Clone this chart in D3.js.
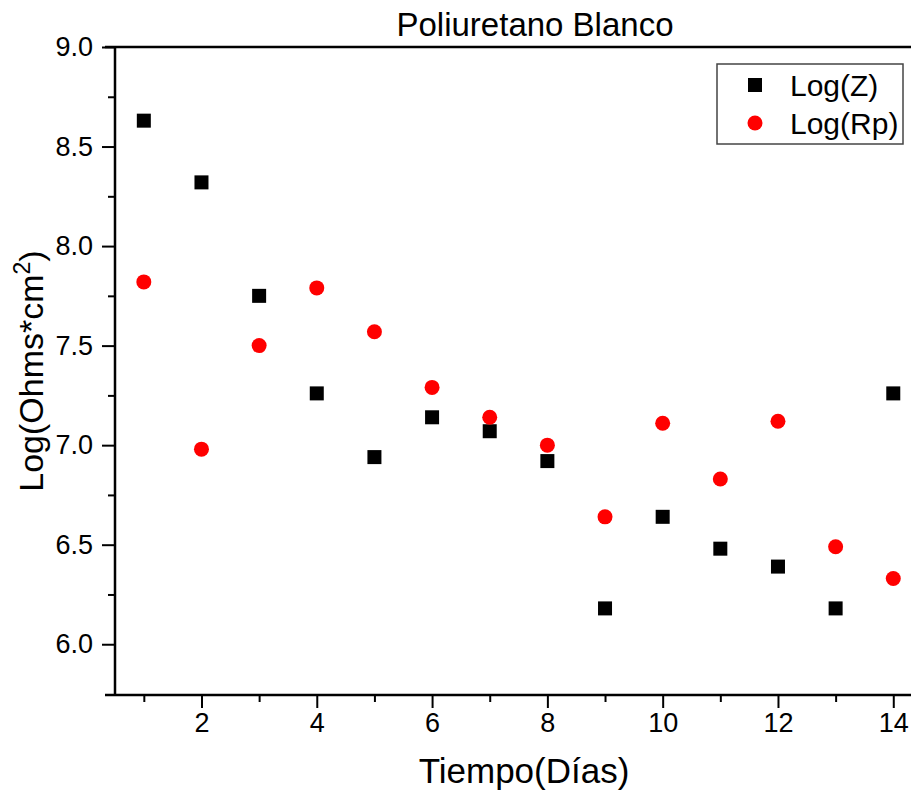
<!DOCTYPE html>
<html>
<head>
<meta charset="utf-8">
<script src="https://cdn.jsdelivr.net/npm/d3@7"></script>
<style>
body { margin: 0; background: #fff; }
text { font-family: "Liberation Sans", Arial, sans-serif; fill: #000; }
</style>
</head>
<body>
<div id="chart"></div>
<script>
var dias = [1, 2, 3, 4, 5, 6, 7, 8, 9, 10, 11, 12, 13, 14];
var logZ = [8.63, 8.32, 7.75, 7.26, 6.94, 7.14, 7.07, 6.92, 6.18, 6.64, 6.48, 6.39, 6.18, 7.26];
var logRp = [7.82, 6.98, 7.50, 7.79, 7.57, 7.29, 7.14, 7.00, 6.64, 7.11, 6.83, 7.12, 6.49, 6.33];
var xTicks = [2, 4, 6, 8, 10, 12, 14];
var yTicks = [6.0, 6.5, 7.0, 7.5, 8.0, 8.5, 9.0];

var W = 911, H = 796;
var pLeft = 115, pTop = 47, pBottom = 695;

var svg = d3.select("#chart").append("svg")
	.attr("width", W)
	.attr("height", H);

var x = d3.scaleLinear().domain([0.5, 14.5]).range([pLeft, pLeft + 14 * 57.65]);
var y = d3.scaleLinear().domain([5.745, 9.0]).range([pBottom, pTop]);

// minor ticks first
svg.append("g")
	.attr("transform", "translate(0," + pBottom + ")")
	.call(d3.axisBottom(x).tickValues(d3.range(1, 15, 2)).tickSize(7).tickFormat(""))
	.call(function(g){ g.select(".domain").remove(); })
	.selectAll("line").attr("stroke-width", 2);

svg.append("g")
	.attr("transform", "translate(" + pLeft + ",0)")
	.call(d3.axisLeft(y).tickValues(d3.range(6.25, 9, 0.5)).tickSize(7).tickFormat(""))
	.call(function(g){ g.select(".domain").remove(); })
	.selectAll("line").attr("stroke-width", 2);

// major ticks
var xa = svg.append("g")
	.attr("transform", "translate(0," + pBottom + ")")
	.call(d3.axisBottom(x).tickValues(xTicks).tickSize(13).tickPadding(5).tickFormat(d3.format("d")));
xa.select(".domain").remove();
xa.selectAll("line").attr("stroke-width", 2);
xa.selectAll("text").attr("font-size", 27).attr("font-family", "Liberation Sans, Arial, sans-serif");

var ya = svg.append("g")
	.attr("transform", "translate(" + pLeft + ",0)")
	.call(d3.axisLeft(y).tickValues(yTicks).tickSize(13).tickPadding(9).tickFormat(d3.format(".1f")));
ya.select(".domain").remove();
ya.selectAll("line").attr("stroke-width", 2);
ya.selectAll("text").attr("font-size", 27).attr("font-family", "Liberation Sans, Arial, sans-serif");

// frame
svg.append("line").attr("x1", pLeft - 10).attr("x2", W + 5).attr("y1", pTop).attr("y2", pTop)
	.attr("stroke", "#000").attr("stroke-width", 2.5);
svg.append("line").attr("x1", pLeft - 10).attr("x2", W + 5).attr("y1", pBottom).attr("y2", pBottom)
	.attr("stroke", "#000").attr("stroke-width", 2.5);
svg.append("line").attr("x1", pLeft).attr("x2", pLeft).attr("y1", pTop).attr("y2", pBottom)
	.attr("stroke", "#000").attr("stroke-width", 2.5);

// points
svg.append("g").selectAll("rect")
	.data(dias)
	.enter().append("rect")
	.attr("x", function(d){ return x(d) - 7; })
	.attr("y", function(d, i){ return y(logZ[i]) - 7; })
	.attr("width", 14)
	.attr("height", 14)
	.attr("fill", "#000");

svg.append("g").selectAll("circle")
	.data(dias)
	.enter().append("circle")
	.attr("cx", function(d){ return x(d); })
	.attr("cy", function(d, i){ return y(logRp[i]); })
	.attr("r", 7.5)
	.attr("fill", "#ff0000");

// title and labels
svg.append("text")
	.attr("x", 535).attr("y", 36)
	.attr("text-anchor", "middle")
	.attr("font-size", 33)
	.text("Poliuretano Blanco");

svg.append("text")
	.attr("x", 524).attr("y", 783)
	.attr("text-anchor", "middle")
	.attr("font-size", 35)
	.text("Tiempo(Días)");

var yl = svg.append("text")
	.attr("transform", "translate(43,371) rotate(-90)")
	.attr("text-anchor", "middle")
	.attr("font-size", 34);
yl.append("tspan").text("Log(Ohms*cm");
yl.append("tspan").attr("font-size", 23).attr("dy", -13).text("2");
yl.append("tspan").attr("dy", 13).text(")");

// legend
var lg = svg.append("g");
lg.append("rect")
	.attr("x", 717).attr("y", 64)
	.attr("width", 186).attr("height", 80)
	.attr("fill", "#fff")
	.attr("stroke", "#444")
	.attr("stroke-width", 1.5);
lg.append("rect")
	.attr("x", 755 - 7).attr("y", 85 - 7)
	.attr("width", 14).attr("height", 14)
	.attr("fill", "#000");
lg.append("circle")
	.attr("cx", 755).attr("cy", 123).attr("r", 7.5)
	.attr("fill", "#ff0000");
lg.append("text").attr("x", 790).attr("y", 96).attr("font-size", 30).text("Log(Z)");
lg.append("text").attr("x", 790).attr("y", 134).attr("font-size", 30).text("Log(Rp)");
</script>
</body>
</html>
